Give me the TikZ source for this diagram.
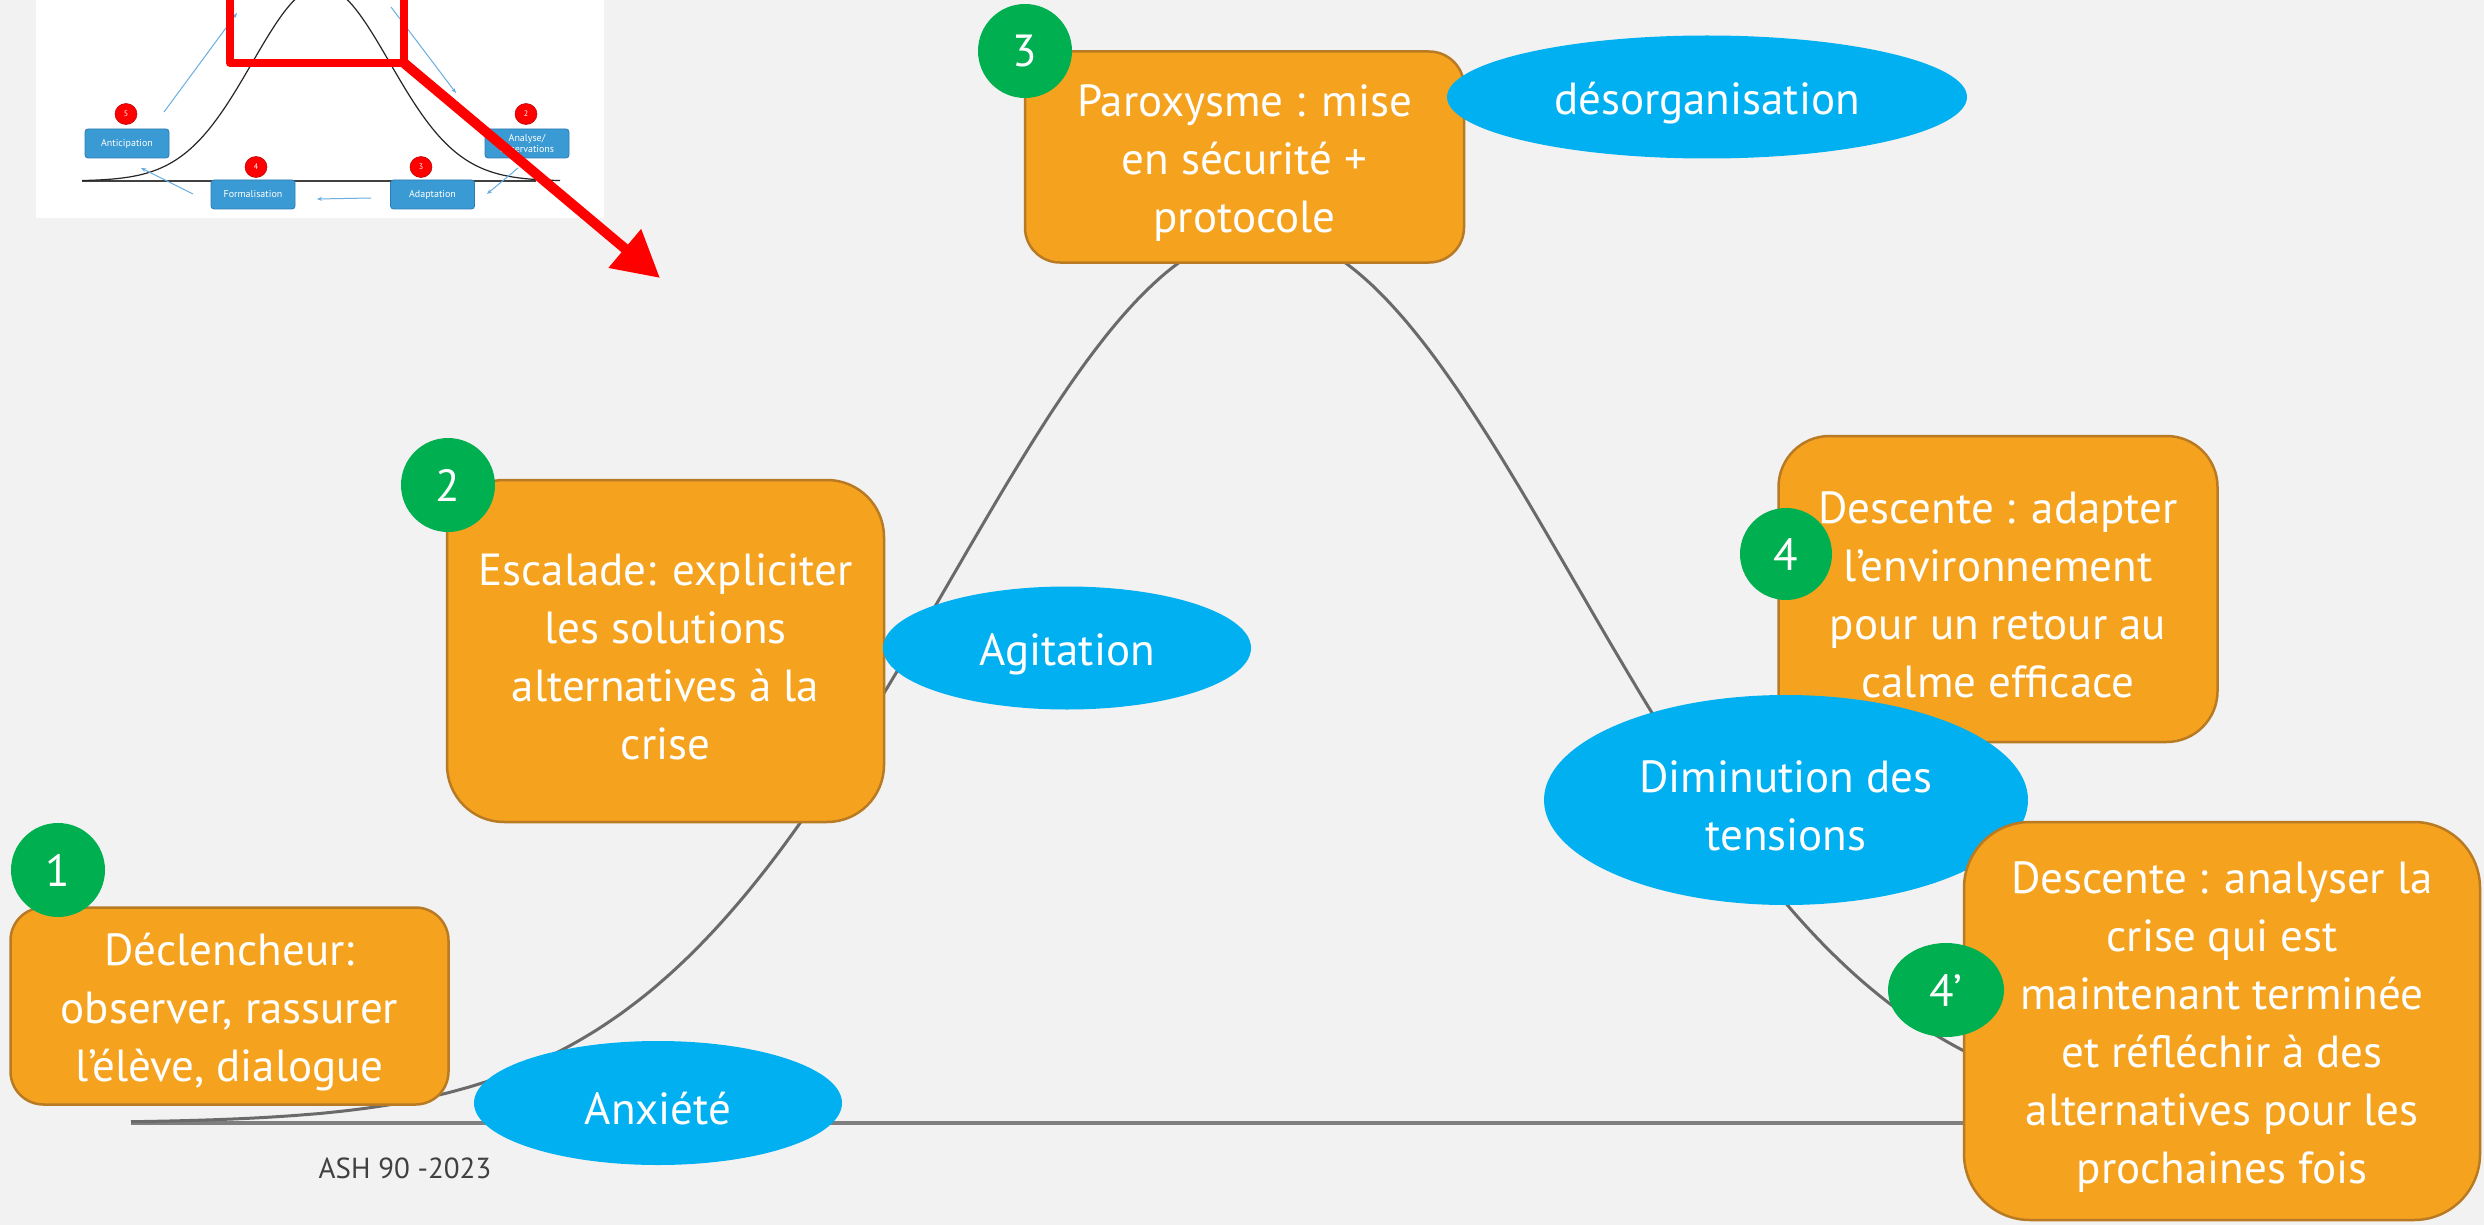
\documentclass[tikz,border=0pt]{standalone}
\usepackage{fontspec}
\setmainfont{PT Sans}
\usetikzlibrary{arrows.meta,shapes.geometric}

\definecolor{pagebg}{HTML}{F2F2F2}
\definecolor{stagefill}{HTML}{F5A31F}
\definecolor{stageline}{HTML}{B97A24}
\definecolor{numfill}{HTML}{00B050}
\definecolor{phasefill}{HTML}{00B0F0}
\definecolor{curvegray}{HTML}{6A6A6A}
\definecolor{axisgray}{HTML}{7F7F7F}
\definecolor{minibox}{HTML}{3A9AD3}
\definecolor{miniboxline}{HTML}{2E7BB4}
\definecolor{miniarrow}{HTML}{6AAEDF}
\definecolor{alertred}{HTML}{FF0000}

\begin{document}
\begin{tikzpicture}[x=1pt,y=-1pt,
  bigtext/.style={text=white, align=center, inner sep=0pt,
    font=\fontsize{45}{58}\selectfont},
  % text sits a little below the geometric centre of each shape
  says/.style={label={[bigtext, yshift=-6pt]center:{#1}}},
  stagebox/.style={draw=stageline, line width=2.5pt, fill=stagefill, inner sep=0pt},
  phase/.style={ellipse, fill=phasefill, inner sep=0pt},
  stepnum/.style={ellipse, fill=numfill, text=white, inner sep=0pt,
    minimum width=94pt, minimum height=94pt, font=\fontsize{45}{58}\selectfont},
  minicard/.style={draw=miniboxline, line width=0.8pt, fill=minibox, text=white,
    rounded corners=3pt, align=center, inner sep=0pt, minimum width=84pt,
    minimum height=29pt, font=\fontsize{10}{11}\selectfont},
  minidot/.style={ellipse, fill=alertred, draw=red!70!black, line width=0.5pt,
    text=white, inner sep=0pt, minimum width=22pt, minimum height=21pt,
    font=\fontsize{8}{9}\selectfont},
  miniflow/.style={draw=miniarrow, line width=1pt, -{Stealth[length=5pt,width=4pt]}}
]
% page
\fill[pagebg] (0,0) rectangle (2484,1225);
\useasboundingbox (0,0) rectangle (2484,1225);

% ---------- small inset: the original crisis curve ----------
\fill[white] (36,0) rectangle (604,218);
\begin{scope}
  \clip (36,0) rectangle (604,218);
  \draw[line width=2.5pt, black!75] (82,181) -- (536,181);
  \draw[line width=1.2pt, black!85] plot[domain=82:560, samples=160, smooth]
    (\x, {181-195*exp(-((\x-321)/10)^2/94.66)});
  \node[minicard] (ant) at (127,143.5) {Anticipation};
  \node[minicard] (ana) at (527,143.5) {Analyse/\\observations};
  \node[minicard] (for) at (253,194.5) {Formalisation};
  \node[minicard] (ada) at (432.5,194.5) {Adaptation};
  \node[minidot] (d5) at (126,114) {5};
  \node[minidot] (d2) at (526,114) {2};
  \node[minidot] (d4) at (256,167) {4};
  \node[minidot] (d3) at (421,167) {3};
  \coordinate (a1s) at (164,112); \coordinate (a1e) at (237,13);
  \coordinate (a2s) at (391,7);   \coordinate (a2e) at (456,93);
  \coordinate (a3s) at (518,168); \coordinate (a3e) at (487,194);
  \coordinate (a4s) at (371,198); \coordinate (a4e) at (317,199);
  \coordinate (a5s) at (193,194); \coordinate (a5e) at (141,168);
  \draw[miniflow] (a1s) -- (a1e);
  \draw[miniflow] (a2s) -- (a2e);
  \draw[miniflow] (a3s) -- (a3e);
  \draw[miniflow] (a4s) -- (a4e);
  \draw[miniflow] (a5s) -- (a5e);
  % zoom frame around the peak
  \draw[alertred, line width=8pt, line join=round] (230,-10) -- (230,63) -- (404,63) -- (404,-10);
\end{scope}
\coordinate (zoomcorner) at (404,63);
\coordinate (zoomtip) at (660,278);
\draw[alertred, line width=10pt, -{Triangle[length=46pt,width=48pt]}] (zoomcorner) -- (zoomtip);

% ---------- main curve ----------
\coordinate (axisstart) at (131,1123);
\coordinate (axisend) at (2100,1123);
\draw[axisgray, line width=3.5pt] (axisstart) -- (axisend);
\draw[curvegray, line width=3pt] plot[domain=131:2150, samples=240, smooth]
  (\x, {1123-891*exp(-((\x-1262)/100)^2/19.6)});

% ---------- stages ----------
\node[stagebox, minimum width=438pt, minimum height=197pt, rounded corners=33pt,
  says={Déclencheur:\\observer, rassurer\\l’élève, dialogue}] (s1) at (229.5,1006) {};
\node[stagebox, minimum width=437pt, minimum height=342pt, rounded corners=57pt,
  says={Escalade: expliciter\\les solutions\\alternatives à la\\crise}] (s2) at (665.5,651) {};
\node[stagebox, minimum width=439pt, minimum height=211pt, rounded corners=35pt,
  says={Paroxysme : mise\\en sécurité +\\protocole}] (s3) at (1244.5,157) {};
\node[stagebox, minimum width=439pt, minimum height=306pt, rounded corners=51pt,
  says={Descente : adapter\\l’environnement\\pour un retour au\\calme efficace}] (s4) at (1998,589) {};

% ---------- phases ----------
\node[phase, minimum width=368pt, minimum height=124pt, says={Anxiété}] (anx) at (658,1103) {};
\node[phase, minimum width=368pt, minimum height=123pt, says={Agitation}] (agi) at (1067,648) {};
\node[phase, minimum width=520pt, minimum height=123pt, says={désorganisation}] (des) at (1707,97) {};
\node[phase, minimum width=484pt, minimum height=210pt, says={Diminution des\\tensions}] (dim) at (1786,800) {};

\node[stagebox, minimum width=516pt, minimum height=398pt, rounded corners=66pt,
  says={Descente : analyser la\\crise qui est\\maintenant terminée\\et réfléchir à des\\alternatives pour les\\prochaines fois}] (s5) at (2222,1021) {};

% ---------- step numbers ----------
\node[stepnum] (n1) at (58,870) {1};
\node[stepnum] (n2) at (448,485) {2};
\node[stepnum] (n3) at (1025,51) {3};
\node[stepnum, minimum width=92pt, minimum height=92pt] (n4) at (1786,554) {4};
\node[stepnum, minimum width=116pt] (n5) at (1946,990) {4’};

% ---------- credit ----------
\node[text=black!75, font=\fontsize{29}{32}\selectfont, inner sep=0pt] (credit) at (405,1168) {ASH 90 -2023};
\end{tikzpicture}
\end{document}
